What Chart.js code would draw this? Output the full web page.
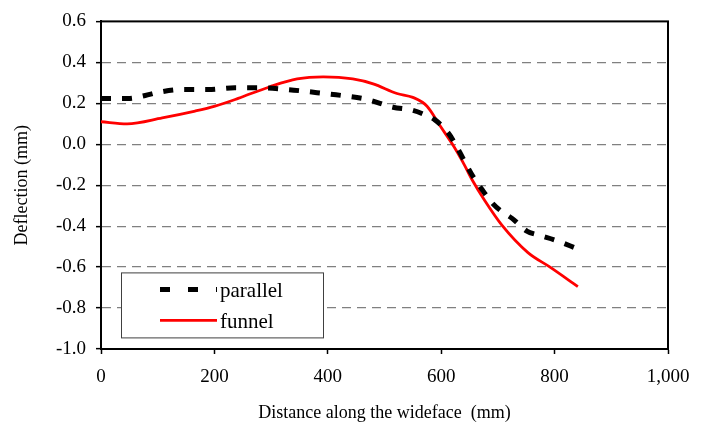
<!DOCTYPE html>
<html><head><meta charset="utf-8">
<script src="https://cdn.jsdelivr.net/npm/chart.js@4.4.0/dist/chart.umd.min.js"></script>
<style>html,body{margin:0;padding:0;background:#fff}#wrap{width:709px;height:430px}</style>
</head><body><div id="wrap"><canvas id="c" width="709" height="430"></canvas></div>
<script>
const seriesNames = ['parallel', 'funnel'];
const parallelX = [0, 48, 78, 99, 143, 189, 236, 277, 330, 381, 425, 469, 515, 548, 568, 589, 612, 624, 638, 654, 674, 691, 707, 725, 751, 771, 804, 840];
const parallelY = [0.224, 0.224, 0.238, 0.252, 0.267, 0.267, 0.276, 0.276, 0.267, 0.252, 0.238, 0.219, 0.181, 0.167, 0.148, 0.119, 0.057, 0.005, -0.067, -0.148, -0.229, -0.290, -0.329, -0.362, -0.424, -0.443, -0.471, -0.510];
const funnelX = [0, 46, 108, 166, 201, 242, 298, 346, 392, 444, 480, 522, 550, 575, 598, 621, 638, 656, 677, 707, 753, 792, 841];
const funnelY = [0.110, 0.100, 0.129, 0.162, 0.186, 0.224, 0.281, 0.319, 0.329, 0.319, 0.295, 0.248, 0.229, 0.186, 0.090, -0.005, -0.086, -0.181, -0.276, -0.395, -0.529, -0.600, -0.695];
const xTicks = [0, 200, 400, 600, 800, 1000];
const yTicks = [-1.0, -0.8, -0.6, -0.4, -0.2, 0.0, 0.2, 0.4, 0.6];
const xTitle = 'Distance along the wideface  (mm)';
const yTitle = 'Deflection (mm)';

const FONT = 'Liberation Serif';

const framePlugin = {
  id: 'frame',
  beforeDatasetsDraw(chart) {
    const {ctx, chartArea: a} = chart;
    ctx.save();
    ctx.strokeStyle = '#000';
    ctx.lineWidth = 2;
    ctx.strokeRect(a.left, a.top, a.right - a.left, a.bottom - a.top);
    ctx.restore();
  }
};

const legendPlugin = {
  id: 'boxLegend',
  afterDraw(chart) {
    const {ctx, chartArea: a} = chart;
    const bx = a.left + 20, by = a.top + 251, bw = 202, bh = 65;
    ctx.save();
    ctx.fillStyle = '#fff';
    ctx.fillRect(bx, by, bw, bh);
    ctx.strokeStyle = '#404040';
    ctx.lineWidth = 1;
    ctx.strokeRect(bx + 0.5, by + 0.5, bw, bh);
    chart.data.datasets.forEach((ds, i) => {
      const y = by + 17 + i * 31;
      ctx.save();
      ctx.strokeStyle = ds.borderColor;
      ctx.lineWidth = ds.borderWidth;
      ctx.setLineDash(ds.borderDash ? [10, 18] : []);
      ctx.beginPath();
      ctx.moveTo(bx + 39, y);
      ctx.lineTo(bx + 96, y);
      ctx.stroke();
      ctx.restore();
      ctx.fillStyle = '#000';
      ctx.font = '21px "' + FONT + '"';
      ctx.textBaseline = 'middle';
      ctx.textAlign = 'left';
      ctx.fillText(ds.label, bx + 99, y + 2);
    });
    ctx.restore();
  }
};

new Chart(document.getElementById('c'), {
  type: 'line',
  data: {
    datasets: [
      {
        label: seriesNames[0],
        data: parallelX.map((x, i) => ({x: x, y: parallelY[i]})),
        borderColor: '#000000',
        borderWidth: 5,
        borderDash: [10, 11],
        borderCapStyle: 'butt',
        pointRadius: 0,
        fill: false,
        cubicInterpolationMode: 'monotone'
      },
      {
        label: seriesNames[1],
        data: funnelX.map((x, i) => ({x: x, y: funnelY[i]})),
        borderColor: '#ff0000',
        borderWidth: 2.8,
        pointRadius: 0,
        fill: false,
        cubicInterpolationMode: 'monotone'
      }
    ]
  },
  options: {
    responsive: false,
    animation: false,
    devicePixelRatio: 1,
    layout: {padding: {left: 0, right: 41, top: 13, bottom: 0}},
    plugins: {legend: {display: false}, tooltip: {enabled: false}},
    scales: {
      x: {
        type: 'linear',
        min: 0, max: 1000,
        afterBuildTicks: s => { s.ticks = xTicks.map(v => ({value: v})); },
        afterFit: s => { s.height = 81; },
        ticks: {
          color: '#000',
          font: {family: FONT, size: 19},
          padding: 12,
          maxRotation: 0,
          autoSkip: false,
          callback: v => Number(v).toLocaleString('en-US')
        },
        grid: {display: true, drawOnChartArea: false, drawTicks: true, tickLength: 5, tickColor: '#000', tickWidth: 1.5},
        border: {display: true, color: '#000', width: 2},
        title: {display: true, text: xTitle, color: '#000', font: {family: FONT, size: 18}, padding: {top: 0, bottom: 6}}
      },
      y: {
        type: 'linear',
        min: -1.0, max: 0.6,
        afterBuildTicks: s => { s.ticks = yTicks.map(v => ({value: v})); },
        afterFit: s => { s.width = 101; },
        ticks: {
          color: '#000',
          font: {family: FONT, size: 19},
          padding: 10,
          autoSkip: false,
          callback: v => Number(v).toFixed(1)
        },
        grid: {
          display: true,
          drawOnChartArea: true,
          drawTicks: true,
          tickLength: 5,
          tickColor: '#000',
          tickWidth: 1.5,
          lineWidth: 1.3,
          color: c => (c.tick && (c.tick.value === 0.6 || c.tick.value === -1)) ? 'rgba(0,0,0,0)' : '#808080'
        },
        border: {display: true, color: '#000', width: 2, dash: [9, 6]},
        title: {display: true, text: yTitle, color: '#000', font: {family: FONT, size: 18}, padding: {top: 11, bottom: 0}}
      }
    }
  },
  plugins: [framePlugin, legendPlugin]
});
</script>
</body></html>
